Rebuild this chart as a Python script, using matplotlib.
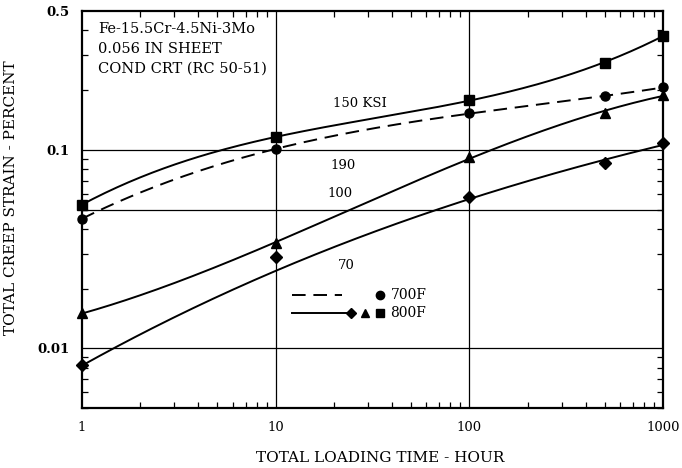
import numpy as np
import matplotlib.pyplot as plt
from matplotlib.ticker import LogLocator, NullFormatter, FixedLocator, FixedFormatter

plt.rcParams['font.family'] = ['DejaVu Serif']

# Creep data (hours, percent strain)
hours = [1, 10, 100, 500, 1000]
ksi150_800 = [0.053, 0.116, 0.178, 0.275, 0.376]
ksi190_700 = [0.045, 0.101, 0.153, 0.186, 0.207]
ksi100_800 = [0.015, 0.034, 0.092, 0.153, 0.190]
ksi70_800 = [0.0082, 0.029, 0.058, 0.086, 0.108]
# faired curve for 70 ksi runs below the 10 h point
ksi70_curve = [0.0082, 0.0243, 0.058, 0.086, 0.108]

curve_labels = ['150 KSI', '190', '100', '70']
label_pos = [(19.8, 0.172), (19.1, 0.0838), (18.6, 0.0605), (21.0, 0.0262)]

DASH = (0, (7, 4))


def smooth(x, y, deg=3):
    lx, ly = np.log10(x), np.log10(y)
    c = np.polyfit(lx, ly, deg)
    xs = np.linspace(lx.min(), lx.max(), 200)
    return 10 ** xs, 10 ** np.polyval(c, xs)


fig = plt.figure(figsize=(6.82, 4.68), dpi=100)
ax = fig.add_axes([0.120, 0.128, 0.852, 0.848])
ax.set_xscale('log')
ax.set_yscale('log')
ax.set_xlim(1, 1000)
ax.set_ylim(0.005, 0.5)

# grid lines
for v in [0.01, 0.05, 0.1]:
    ax.axhline(v, color='black', lw=0.9)
for v in [10, 100]:
    ax.axvline(v, color='black', lw=0.9)

h = np.array(hours, dtype=float)
series = [
    (ksi150_800, ksi150_800, '-', 's', 6.5),
    (ksi190_700, ksi190_700, '--', 'o', 6.5),
    (ksi100_800, ksi100_800, '-', '^', 7),
    (ksi70_800, ksi70_curve, '-', 'D', 6),
]
for vals, fair, ls, mk, ms in series:
    xs, ys = smooth(h, np.array(fair))
    ax.plot(xs, ys, color='black', lw=1.4, ls=DASH if ls == '--' else '-')
    ax.plot(h, vals, ls='none', marker=mk, color='black', ms=ms,
            clip_on=False, zorder=5)

for txt, (x, y) in zip(curve_labels, label_pos):
    ax.text(x, y, txt, fontsize=9.5, va='center', ha='left')

ax.text(0.028, 0.972, 'Fe-15.5Cr-4.5Ni-3Mo\n0.056 IN SHEET\nCOND CRT (RC 50-51)',
        transform=ax.transAxes, fontsize=10.5, va='top', ha='left', linespacing=1.5)

# legend
ax.plot([0.361, 0.448], [0.285, 0.285], transform=ax.transAxes, color='black', lw=1.4,
        ls=DASH)
ax.plot([0.513], [0.285], transform=ax.transAxes, marker='o', color='black', ms=6)
ax.text(0.531, 0.285, '700F', transform=ax.transAxes, fontsize=10, va='center')
ax.plot([0.361, 0.46], [0.239, 0.239], transform=ax.transAxes, color='black', lw=1.4)
ax.plot([0.463], [0.239], transform=ax.transAxes, marker='D', color='black', ms=5.5)
ax.plot([0.487], [0.239], transform=ax.transAxes, marker='^', color='black', ms=6)
ax.plot([0.513], [0.239], transform=ax.transAxes, marker='s', color='black', ms=5.5)
ax.text(0.531, 0.239, '800F', transform=ax.transAxes, fontsize=10, va='center')

# ticks
ax.xaxis.set_major_locator(FixedLocator([1, 10, 100, 1000]))
ax.xaxis.set_major_formatter(FixedFormatter(['1', '10', '100', '1000']))
ax.xaxis.set_minor_locator(LogLocator(base=10, subs=np.arange(2, 10)))
ax.xaxis.set_minor_formatter(NullFormatter())
ax.yaxis.set_major_locator(FixedLocator([0.01, 0.1, 0.5]))
ax.yaxis.set_major_formatter(FixedFormatter(['0.01', '0.1', '0.5']))
ax.yaxis.set_minor_locator(LogLocator(base=10, subs=np.arange(2, 10)))
ax.yaxis.set_minor_formatter(NullFormatter())
ax.tick_params(which='both', direction='in', top=True, right=True, labelsize=9.5)
ax.tick_params(which='major', length=0, pad=9)
ax.tick_params(which='minor', length=4, width=0.9)
for lab in ax.get_yticklabels():
    lab.set_fontweight('bold')

for s in ax.spines.values():
    s.set_linewidth(1.6)

ax.set_xlabel('TOTAL LOADING TIME - HOUR', fontsize=11)
ax.set_ylabel('TOTAL CREEP STRAIN - PERCENT', fontsize=11)
ax.xaxis.set_label_coords(0.513, -0.108)
ax.yaxis.set_label_coords(-0.110, 0.53)

fig.savefig('out.png', dpi=100)
